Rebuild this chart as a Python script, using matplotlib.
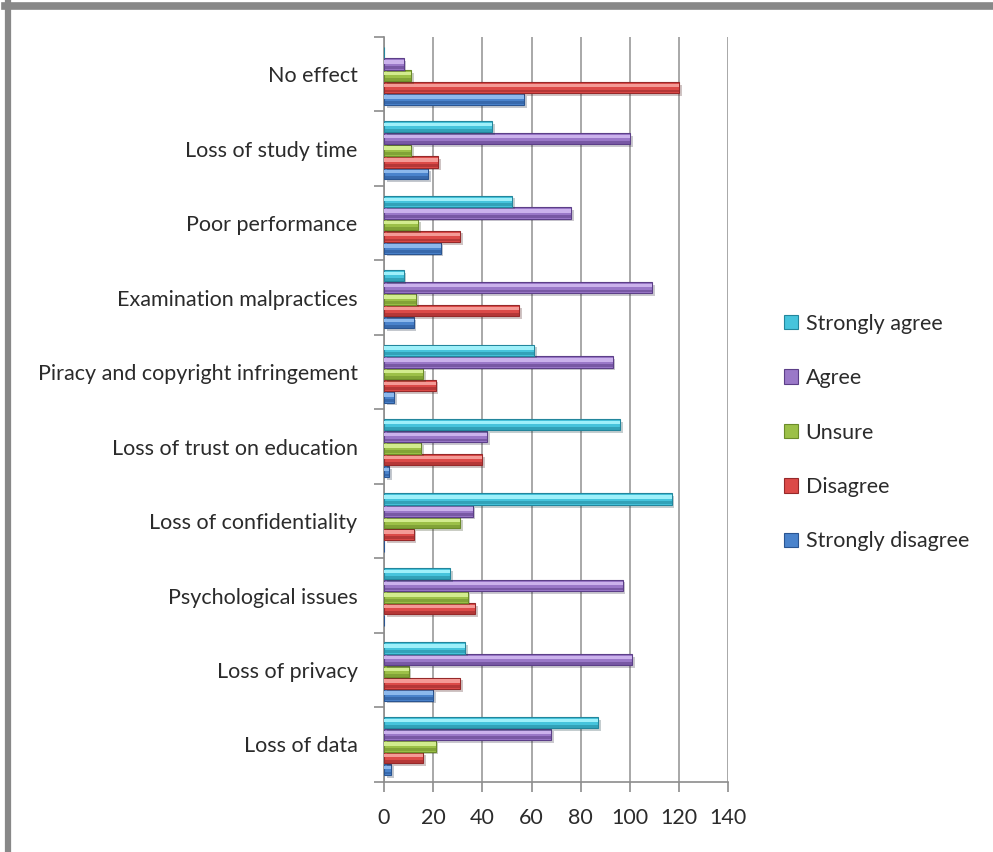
import matplotlib
matplotlib.use("Agg")
import matplotlib.pyplot as plt
import matplotlib.patheffects as pe
from matplotlib.lines import Line2D
from matplotlib.patches import Patch
import numpy as np

# categories listed bottom to top
categories = ["Loss of data", "Loss of privacy", "Psychological issues",
              "Loss of confidentiality", "Loss of trust on education",
              "Piracy and copyright infringement", "Examination malpractices",
              "Poor performance", "Loss of study time", "No effect"]

strongly_disagree = [3, 20, 0, 0, 2, 4, 12, 23, 18, 57]
disagree = [16, 31, 37, 12, 40, 21, 55, 31, 22, 120]
unsure = [21, 10, 34, 31, 15, 16, 13, 14, 11, 11]
agree = [68, 101, 97, 36, 42, 93, 109, 76, 100, 8]
strongly_agree = [87, 33, 27, 117, 96, 61, 8, 52, 44, 0]

# (label, values, base colour, light colour, dark colour), bottom bar first
series = [
    ("Strongly disagree", strongly_disagree, "#4a83cc", "#8cb8ec", "#2a5592"),
    ("Disagree", disagree, "#dc4a48", "#f49a96", "#96292a"),
    ("Unsure", unsure, "#9cc048", "#d2ec8e", "#6c8c2a"),
    ("Agree", agree, "#9a78c8", "#cbb2ec", "#5c3f88"),
    ("Strongly agree", strongly_agree, "#46c4dc", "#9ef0fa", "#23869c"),
]

plt.rcParams['font.family'] = ['Lato', 'DejaVu Sans']
text_color = "#2b2b2b"

fig = plt.figure(figsize=(9.93, 8.52), dpi=100)
ax = fig.add_axes([0.3867, 0.0825, 0.3467, 0.8741])

y = np.arange(len(categories))
step = 0.157
h = 0.152
shadow = [pe.SimplePatchShadow(offset=(2, -2), alpha=0.25), pe.Normal()]

for k, (label, vals, base, light, dark) in enumerate(series):
    pos = y + (k - 2) * step - 0.02
    ax.barh(pos, vals, height=h, color=base, edgecolor=dark, linewidth=0.8,
            path_effects=shadow, zorder=3)
    # glossy highlight and darker lower band for the tube look
    ax.barh(pos + h * 0.18, vals, height=h * 0.3, color=light, linewidth=0,
            zorder=4)
    ax.barh(pos - h * 0.32, vals, height=h * 0.25, color=dark, alpha=0.55,
            linewidth=0, zorder=4)

ax.set_xlim(0, 140)
ax.set_ylim(-0.5, len(categories) - 0.5)
ax.set_xticks(np.arange(0, 141, 20))
ax.set_yticks(y)
ax.set_yticklabels(categories)
ax.set_yticks(np.arange(-0.5, len(categories), 1), minor=True)

ax.grid(axis="x", color="#999999", linewidth=1.2, zorder=0)
ax.set_axisbelow(True)
for side in ["top", "right"]:
    ax.spines[side].set_visible(False)
for side in ["left", "bottom"]:
    ax.spines[side].set_color("#8c8c8c")
    ax.spines[side].set_linewidth(1.2)

ax.tick_params(axis="y", which="major", length=0, pad=19, labelsize=15.5,
               labelcolor=text_color)
ax.tick_params(axis="y", which="minor", length=7, color="#8c8c8c", width=1.2)
ax.tick_params(axis="x", length=7, color="#8c8c8c", width=1.2, pad=12,
               labelsize=15.5, labelcolor=text_color)

handles = [Patch(facecolor=base, edgecolor=dark, linewidth=0.8)
           for (_, _, base, _, dark) in series[::-1]]
labels = [s[0] for s in series[::-1]]
fig.legend(handles, labels, loc="upper left", bbox_to_anchor=(0.781, 0.642),
           frameon=False, fontsize=15.5, labelcolor=text_color,
           handlelength=0.65, handleheight=0.65, handletextpad=0.35,
           labelspacing=1.6, borderaxespad=0)

# grey frame along the top and left edges
fig.add_artist(Line2D([0.005, 1.0], [0.9925, 0.9925], transform=fig.transFigure,
                      color="#888888", linewidth=5.5))
fig.add_artist(Line2D([0.0083, 0.0083], [0.0, 0.996], transform=fig.transFigure,
                      color="#888888", linewidth=4.5))

fig.savefig("out.png", dpi=100)
